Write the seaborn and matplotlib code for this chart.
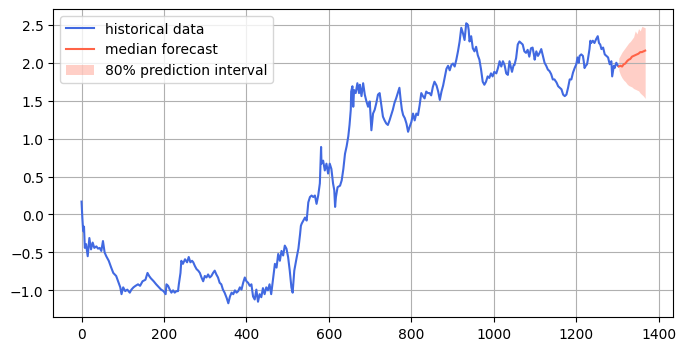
import numpy as np
import pandas as pd
import matplotlib
matplotlib.use("Agg")
import matplotlib.pyplot as plt
import seaborn as sns

# ---- historical series ----
hist_t = [0, 2, 4, 6, 8, 11, 15, 19, 23, 27, 31, 36, 40, 44, 48, 52, 56, 60, 66, 72,
          77, 84, 90, 94, 97, 101, 106, 111, 117, 121, 126, 131, 137, 142, 148, 155, 160, 164, 168, 175,
          181, 188, 193, 199, 204, 206, 210, 214, 218, 222, 226, 230, 234, 236, 240, 242, 246, 251, 256, 260,
          264, 268, 271, 275, 279, 283, 287, 291, 295, 299, 303, 307, 311, 315, 319, 323, 327, 331, 335, 339,
          343, 347, 352, 356, 360, 364, 368, 372, 376, 380, 384, 388, 392, 396, 400, 404, 408, 412, 416, 420,
          424, 428, 432, 436, 440, 444, 448, 452, 456, 460, 465, 469, 473, 477, 481, 485, 489, 493, 497, 501,
          505, 509, 512, 516, 519, 522, 526, 530, 532, 534, 538, 542, 546, 550, 554, 558, 562, 566, 570, 574,
          578, 581, 582, 586, 590, 594, 598, 602, 606, 610, 613, 615, 617, 621, 627, 631, 635, 639, 643, 647,
          650, 653, 654, 657, 659, 661, 665, 669, 673, 675, 679, 683, 687, 691, 695, 699, 703, 707, 711, 715,
          719, 723, 727, 731, 735, 739, 743, 747, 751, 755, 759, 763, 767, 771, 774, 777, 780, 784, 788, 792,
          796, 800, 804, 808, 812, 816, 820, 824, 828, 832, 836, 840, 844, 848, 852, 856, 861, 865, 869, 873,
          877, 881, 885, 889, 893, 897, 901, 905, 909, 913, 917, 921, 925, 929, 933, 937, 939, 941, 945, 949,
          953, 957, 961, 965, 969, 973, 977, 981, 985, 989, 993, 997, 1001, 1006, 1010, 1014, 1018, 1022, 1026, 1030,
          1034, 1038, 1042, 1044, 1048, 1050, 1054, 1058, 1062, 1066, 1070, 1074, 1078, 1082, 1086, 1090, 1094, 1097, 1099, 1103,
          1107, 1111, 1115, 1119, 1123, 1127, 1131, 1135, 1139, 1143, 1147, 1152, 1156, 1160, 1164, 1168, 1172, 1176, 1180, 1184,
          1188, 1192, 1196, 1200, 1203, 1206, 1208, 1212, 1216, 1218, 1220, 1223, 1226, 1228, 1232, 1234, 1236, 1240, 1244, 1248,
          1252, 1255, 1258, 1261, 1265, 1269, 1273, 1277, 1281, 1285, 1287, 1291, 1293, 1297, 1301]
hist_y = [0.17, -0.05, -0.22, -0.16, -0.44, -0.39, -0.55, -0.31, -0.46, -0.37, -0.44, -0.42, -0.45, -0.44, -0.48, -0.35, -0.50, -0.55, -0.61, -0.70,
          -0.77, -0.81, -0.90, -0.96, -1.05, -0.96, -1.01, -0.99, -1.03, -0.99, -0.96, -0.94, -0.92, -0.94, -0.88, -0.86, -0.77, -0.81, -0.84, -0.88,
          -0.92, -0.96, -0.99, -1.01, -1.05, -0.92, -0.94, -0.99, -1.03, -1.00, -1.03, -1.01, -1.01, -0.92, -0.77, -0.61, -0.65, -0.59, -0.63, -0.56,
          -0.63, -0.61, -0.63, -0.68, -0.72, -0.74, -0.77, -0.83, -0.88, -0.81, -0.83, -0.79, -0.83, -0.81, -0.77, -0.74, -0.79, -0.83, -0.90, -0.92,
          -0.99, -1.03, -1.10, -1.17, -1.08, -1.03, -1.05, -1.00, -1.03, -1.01, -0.96, -0.99, -0.90, -0.83, -0.88, -0.90, -0.94, -0.92, -1.08, -1.12,
          -0.99, -1.15, -1.05, -1.09, -0.97, -1.05, -0.96, -1.00, -0.92, -1.05, -0.83, -0.65, -0.70, -0.52, -0.61, -0.48, -0.54, -0.41, -0.45, -0.56,
          -0.74, -0.96, -1.03, -0.74, -0.65, -0.56, -0.45, -0.26, -0.15, -0.12, -0.08, -0.04, -0.08, 0.16, 0.23, 0.25, 0.23, 0.25, 0.14, 0.25,
          0.41, 0.89, 0.67, 0.71, 0.58, 0.67, 0.54, 0.67, 0.60, 0.41, 0.32, 0.10, 0.23, 0.36, 0.38, 0.45, 0.60, 0.80, 0.90, 1.03,
          1.18, 1.38, 1.62, 1.69, 1.42, 1.64, 1.60, 1.73, 1.60, 1.71, 1.56, 1.73, 1.58, 1.49, 1.42, 1.49, 1.11, 1.33, 1.38, 1.47,
          1.58, 1.60, 1.44, 1.29, 1.24, 1.20, 1.18, 1.24, 1.31, 1.38, 1.47, 1.53, 1.60, 1.67, 1.51, 1.38, 1.31, 1.27, 1.20, 1.09,
          1.16, 1.22, 1.33, 1.24, 1.33, 1.31, 1.44, 1.60, 1.56, 1.53, 1.62, 1.60, 1.60, 1.57, 1.68, 1.75, 1.70, 1.62, 1.51, 1.62,
          1.70, 1.81, 1.92, 1.96, 1.90, 1.97, 1.99, 1.95, 2.04, 2.15, 2.28, 2.46, 2.39, 2.30, 2.52, 2.50, 2.43, 2.28, 2.35, 2.19,
          2.15, 2.21, 2.10, 2.04, 1.91, 1.75, 1.71, 1.75, 1.82, 1.80, 1.86, 1.82, 1.88, 1.86, 1.93, 2.02, 1.95, 2.02, 1.97, 1.86,
          1.84, 2.02, 1.93, 1.88, 1.97, 1.97, 2.06, 2.24, 2.28, 2.26, 2.24, 2.15, 2.13, 2.17, 2.08, 2.19, 2.20, 2.11, 2.04, 2.15,
          2.09, 2.13, 2.18, 2.09, 2.00, 1.96, 1.91, 1.89, 1.85, 1.78, 1.78, 1.74, 1.69, 1.67, 1.65, 1.58, 1.56, 1.58, 1.67, 1.78,
          1.78, 1.87, 1.93, 1.98, 2.07, 2.00, 2.09, 2.11, 2.09, 2.02, 1.93, 1.96, 1.98, 2.04, 2.18, 2.29, 2.26, 2.29, 2.26, 2.31,
          2.35, 2.26, 2.24, 2.18, 2.20, 2.11, 2.09, 2.07, 1.98, 2.02, 1.82, 1.96, 1.93, 2.00, 1.96]

# ---- forecast ----
fc_t = [1303, 1307, 1311, 1315, 1319, 1323, 1327, 1331, 1335, 1339, 1343, 1347, 1351, 1355, 1359, 1363, 1367]
fc_median = [1.95, 1.96, 1.95, 1.98, 1.99, 2.02, 2.04, 2.05, 2.08, 2.09, 2.10, 2.11, 2.12, 2.14, 2.14, 2.15, 2.16]
fc_low = [1.90, 1.84, 1.80, 1.77, 1.75, 1.72, 1.70, 1.69, 1.68, 1.66, 1.65, 1.64, 1.63, 1.60, 1.58, 1.56, 1.53]
fc_high = [2.06, 2.10, 2.14, 2.17, 2.20, 2.23, 2.26, 2.28, 2.31, 2.34, 2.42, 2.38, 2.45, 2.42, 2.48, 2.47, 2.46]

hist = pd.DataFrame({"t": hist_t, "y": hist_y})
fc = pd.DataFrame({"t": fc_t, "median": fc_median, "low": fc_low, "high": fc_high})

fig, ax = plt.subplots(figsize=(8, 4), dpi=100)
sns.lineplot(data=hist, x="t", y="y", color="royalblue", label="historical data",
             ax=ax, estimator=None, sort=False, linewidth=1.5)
sns.lineplot(data=fc, x="t", y="median", color="tomato", label="median forecast",
             ax=ax, estimator=None, sort=False, linewidth=1.5)
ax.fill_between(fc["t"], fc["low"], fc["high"], color="tomato", alpha=0.3,
                linewidth=0, label="80% prediction interval")
ax.set_xlabel("")
ax.set_ylabel("")
ax.grid(True)
ax.legend(loc="upper left")
fig.savefig("out.png", dpi=100, bbox_inches="tight")
